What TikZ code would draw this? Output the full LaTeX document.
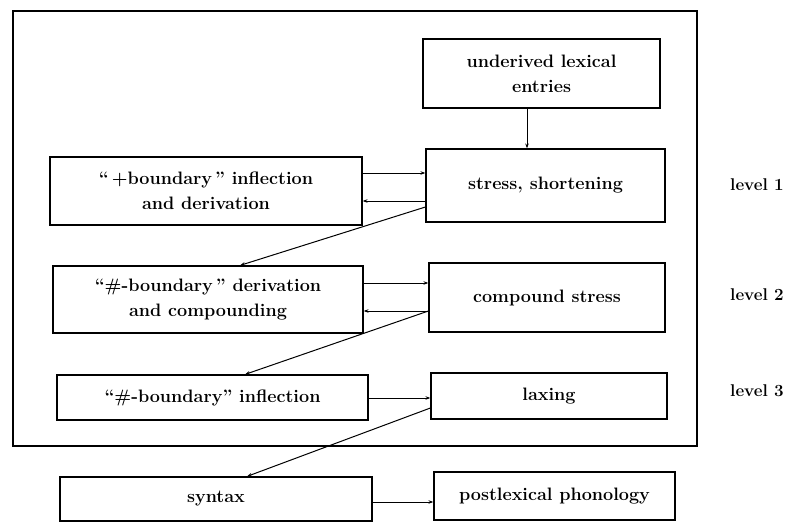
\documentclass[tikz,border=0pt]{standalone}
\usetikzlibrary{arrows.meta}
\begin{document}
\begin{tikzpicture}[x=1pt,y=-1pt,
  box/.style={draw,line width=1.2pt,inner sep=0pt,align=center,font=\fontsize{18}{25}\selectfont\bfseries},
  lbl/.style={inner sep=0pt,font=\fontsize{17}{24}\selectfont\bfseries},
  conn/.style={line width=1pt,-{Stealth[length=5pt,width=3.5pt]}}]
\useasboundingbox (0,0) rectangle (790,522);
\draw[line width=1.3pt] (13,11) rectangle (697,446);
\node[box,minimum width=237pt,minimum height=69pt] (und) at (541.5,73.5) {underived lexical\\entries};
\node[box,minimum width=239pt,minimum height=73pt] (str) at (545.5,185.5) {stress, shortening};
\node[box,minimum width=312pt,minimum height=68pt] (l1) at (206,191) {``\,+boundary\,'' inflection\\and derivation};
\node[box,minimum width=310pt,minimum height=67pt] (l2) at (208,299.5) {``\#-boundary\,'' derivation\\and compounding};
\node[box,minimum width=236pt,minimum height=69pt] (cs) at (547,297.5) {compound stress};
\node[box,minimum width=311pt,minimum height=45pt] (l3) at (212.5,397.5) {``\#-boundary'' inflection};
\node[box,minimum width=236pt,minimum height=46pt] (lax) at (549,396) {laxing};
\node[box,minimum width=312pt,minimum height=44pt] (syn) at (216,499) {syntax};
\node[box,minimum width=241pt,minimum height=48pt] (post) at (554.5,496) {postlexical phonology};
\node[lbl] (lv1) at (757,185) {level 1};
\node[lbl] (lv2) at (757,295) {level 2};
\node[lbl] (lv3) at (757,391) {level 3};
\draw[conn] (und.south -| 527,0) -- (str.north -| 527,0);
\draw[conn] (l1.east |- 0,173) -- (str.west |- 0,173);
\draw[conn] (str.west |- 0,201) -- (l1.east |- 0,201);
\draw[conn] (str.west |- 0,207) -- (l2.north -| 240,0);
\draw[conn] (l2.east |- 0,283) -- (cs.west |- 0,283);
\draw[conn] (cs.west |- 0,311) -- (l2.east |- 0,311);
\draw[conn] (cs.west |- 0,311) -- (l3.north -| 245,0);
\draw[conn] (l3.east |- 0,398) -- (lax.west |- 0,398);
\draw[conn] (lax.west |- 0,408) -- (syn.north -| 247,0);
\draw[conn] (syn.east |- 0,502) -- (post.west |- 0,502);
\end{tikzpicture}
\end{document}
